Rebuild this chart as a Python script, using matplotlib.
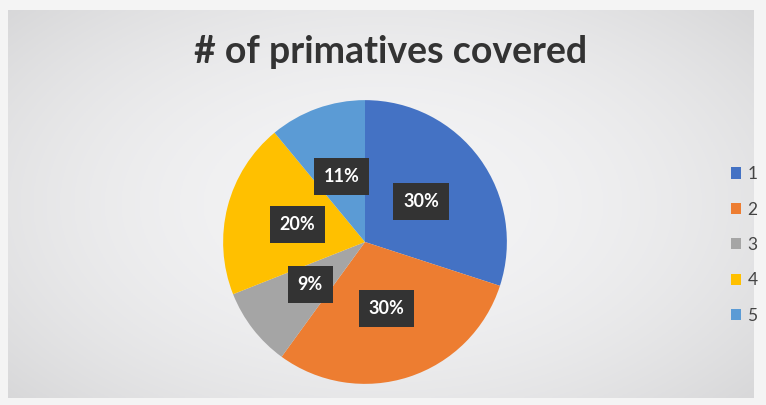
import numpy as np
import matplotlib
matplotlib.use("Agg")
import matplotlib.pyplot as plt
from matplotlib.patches import Patch

categories = ["1", "2", "3", "4", "5"]
values = [30, 30, 9, 20, 11]
colors = ["#4472C4", "#ED7D31", "#A5A5A5", "#FFC000", "#5B9BD5"]
title = "# of primatives covered"

W, H = 766, 405
fig = plt.figure(figsize=(W / 100, H / 100), dpi=100)
fig.patch.set_facecolor("#f4f4f4")

# background panel with soft radial gradient
bg = fig.add_axes([8 / W, 7 / H, 745 / W, 388 / H])
yy, xx = np.mgrid[-1:1:200j, -1:1:400j]
rr = np.sqrt((xx * 0.9) ** 2 + (yy * 0.8) ** 2)
g = 0.955 - 0.075 * np.clip(rr, 0, 1.3) ** 2
img = np.dstack([g, g, g + 0.005])
bg.imshow(np.clip(img, 0, 1), aspect="auto", extent=[0, 1, 0, 1])
bg.set_axis_off()

fig.text(391 / W, 1 - 52 / H, title, ha="center", va="center",
         fontsize=27, fontweight="bold", family="Lato", color="#333333")

cx, cy, r = 365, 242, 142
ax = fig.add_axes([(cx - r - 2) / W, (H - cy - r - 2) / H, (2 * r + 4) / W, (2 * r + 4) / H])
wedges, texts, autotexts = ax.pie(
    values, colors=colors, startangle=90, counterclock=False,
    autopct="%1.0f%%", pctdistance=0.49, radius=1.0,
    wedgeprops=dict(linewidth=0),
    textprops=dict(color="white", fontsize=13, fontweight="bold", family="Lato"))
for t in autotexts:
    t.set_bbox(dict(boxstyle="square,pad=0.55", facecolor="#333333", edgecolor="none"))
ax.set_xlim(-1.015, 1.015)
ax.set_ylim(-1.015, 1.015)
ax.set_aspect("equal")
ax.set_axis_off()

handles = [Patch(facecolor=c, edgecolor="none") for c in colors]
leg = fig.legend(handles, categories, loc="center left",
                 bbox_to_anchor=(731 / W, 1 - 245 / H),
                 frameon=False, handlelength=0.6, handleheight=0.6,
                 handletextpad=0.35, labelspacing=1.12, borderpad=0,
                 borderaxespad=0,
                 prop=dict(family="Lato", size=12.5))
for t in leg.get_texts():
    t.set_color("#444444")

fig.savefig("out.png", dpi=100, facecolor=fig.get_facecolor())
